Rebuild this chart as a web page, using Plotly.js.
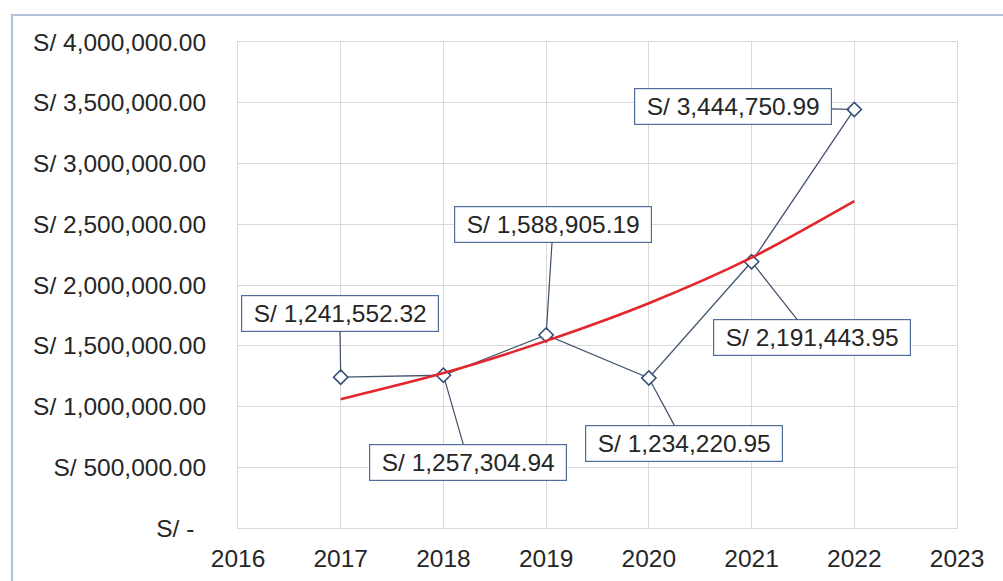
<!DOCTYPE html>
<html>
<head>
<meta charset="utf-8">
<script src="https://cdn.plot.ly/plotly-3.0.1.min.js"></script>
<style>
html,body{margin:0;padding:0;background:#ffffff;}
#chart{width:1003px;height:581px;}
</style>
</head>
<body>
<div id="chart"></div>
<script>
// ---- data ----
var years = [2017, 2018, 2019, 2020, 2021, 2022];
var amounts = [1241552.32, 1257304.94, 1588905.19, 1234220.95, 2191443.95, 3444750.99];
// exponential trend line values
var trendYears = [2017, 2018, 2019, 2020, 2021, 2022];
var trendValues = [1060000, 1275000, 1540000, 1850000, 2225000, 2690000];
var yTickVals = [0, 500000, 1000000, 1500000, 2000000, 2500000, 3000000, 3500000, 4000000];
var yTickText = ['S/ -\u00a0\u2009', 'S/ 500,000.00', 'S/ 1,000,000.00', 'S/ 1,500,000.00', 'S/ 2,000,000.00',
                 'S/ 2,500,000.00', 'S/ 3,000,000.00', 'S/ 3,500,000.00', 'S/ 4,000,000.00'];
var xTickVals = [2016, 2017, 2018, 2019, 2020, 2021, 2022, 2023];

// label box offsets (pixels) from each point
var labelOffsets = [[-1, -64], [25, 87], [7, -110], [35, 65], [60, 76], [-121, -3]];

function fmt(v) {
  var parts = v.toFixed(2).split('.');
  parts[0] = parts[0].replace(/\B(?=(\d{3})+(?!\d))/g, ',');
  return 'S/ ' + parts.join('.');
}

var FONT = '"Liberation Sans", Arial, Helvetica, sans-serif';
var FS = 24.5;

var dataTrace = {
  x: years, y: amounts, type: 'scatter', mode: 'lines+markers',
  line: {color: '#45566e', width: 1.3},
  marker: {symbol: 'diamond', size: 11, color: '#ffffff', line: {color: '#34507a', width: 1.6}},
  hoverinfo: 'skip', showlegend: false
};
var trendTrace = {
  x: trendYears, y: trendValues, type: 'scatter', mode: 'lines',
  line: {color: '#e3262b', width: 2.6, shape: 'spline', smoothing: 0.8},
  hoverinfo: 'skip', showlegend: false
};

var annotations = years.map(function (yr, i) {
  return {
    x: yr, y: amounts[i], xref: 'x', yref: 'y',
    text: fmt(amounts[i]),
    showarrow: true, arrowhead: 0, arrowwidth: 1.2, arrowcolor: '#3f5068',
    ax: labelOffsets[i][0], ay: labelOffsets[i][1], standoff: 5,
    bgcolor: '#ffffff', bordercolor: '#4d6d9a', borderwidth: 1.2, borderpad: 5,
    width: 186, height: 25, align: 'center',
    font: {family: FONT, size: FS, color: '#262626'}
  };
});

var layout = {
  width: 1003, height: 581,
  margin: {l: 238, r: 46, t: 42, b: 53, pad: 0},
  paper_bgcolor: '#ffffff', plot_bgcolor: '#ffffff',
  font: {family: FONT, size: FS, color: '#262626'},
  showlegend: false,
  xaxis: {
    range: [2016, 2023], tickvals: xTickVals, ticktext: xTickVals.map(String),
    showgrid: true, gridcolor: '#d9d9d9', gridwidth: 1,
    showline: true, linecolor: '#d9d9d9', linewidth: 1, mirror: true,
    zeroline: false, ticks: '', ticklabelstandoff: 9,
    tickfont: {family: FONT, size: FS, color: '#262626'}
  },
  yaxis: {
    range: [0, 4000000], tickvals: yTickVals, ticktext: yTickText,
    showgrid: true, gridcolor: '#d9d9d9', gridwidth: 1,
    showline: true, linecolor: '#d9d9d9', linewidth: 1, mirror: true,
    zeroline: false, ticks: '', ticklabelstandoff: 26,
    tickfont: {family: FONT, size: FS, color: '#262626'}
  },
  annotations: annotations,
  shapes: [{
    type: 'rect', xref: 'paper', yref: 'paper',
    x0: -0.3143, x1: 1.08, y0: -0.14, y1: 1.0556,
    line: {color: '#b3c2d9', width: 2.2}, fillcolor: 'rgba(0,0,0,0)', layer: 'below'
  }]
};

Plotly.newPlot('chart', [dataTrace, trendTrace], layout, {displayModeBar: false, staticPlot: true});
</script>
</body>
</html>
